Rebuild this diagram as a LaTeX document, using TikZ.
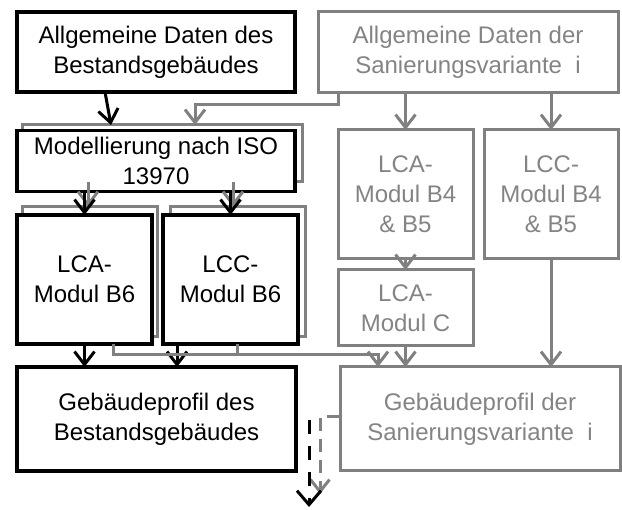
\documentclass[tikz,border=0pt]{standalone}
\usepackage{fontspec}
\setmainfont{Liberation Sans}
\usetikzlibrary{arrows.meta,calc}
\definecolor{gline}{RGB}{128,128,128}
\definecolor{gtext}{RGB}{132,132,132}
\begin{document}
\begin{tikzpicture}[x=1pt,y=-1pt,
  every node/.style={inner sep=0pt,outer sep=0pt,align=center,
    font=\fontsize{24}{30}\selectfont},
  bbox/.style={draw=black,line width=3.5pt,fill=white,text=black},
  gbox/.style={draw=gline,line width=3pt,fill=white,text=gtext},
  shbox/.style={draw=gline,line width=3pt},
  barrow/.style={draw=black,line width=3pt,-{Straight Barb[length=13pt,width=20pt]}},
  garrow/.style={draw=gline,line width=3pt,-{Straight Barb[length=13pt,width=20pt]}},
  gconn/.style={draw=gline,line width=3pt}]
\useasboundingbox (0,0) rectangle (622,510);
% shadows
\node[shbox,minimum width=280pt,minimum height=57pt] (Ms) at (162,153.5) {};
\node[shbox,minimum width=135pt,minimum height=130pt] (LCA6s) at (89.5,272) {};
\node[shbox,minimum width=135pt,minimum height=130pt] (LCC6s) at (237.5,272) {};
% main boxes
\node[bbox,minimum width=278pt,minimum height=80pt] (A) at (156,52) {Allgemeine Daten des\\Bestandsgebäudes};
\node[gbox,minimum width=300pt,minimum height=81pt] (B) at (468,52.5) {Allgemeine Daten der\\Sanierungsvariante\ \ i};
\node[bbox,minimum width=278pt,minimum height=61pt] (M) at (156,161) {Modellierung nach ISO\\13970};
\node[bbox,minimum width=135pt,minimum height=129pt] (LCA6) at (84.5,279.5) {LCA-\\Modul B6};
\node[bbox,minimum width=135pt,minimum height=129pt] (LCC6) at (230.5,279.5) {LCC-\\Modul B6};
\node[gbox,minimum width=135pt,minimum height=129pt] (LCA45) at (405.5,194.5) {LCA-\\Modul B4\\\& B5};
\node[gbox,minimum width=134pt,minimum height=129pt] (LCC45) at (551,194.5) {LCC-\\Modul B4\\\& B5};
\node[gbox,minimum width=135pt,minimum height=76pt] (LCAC) at (405.5,308) {LCA-\\Modul C};
\node[bbox,minimum width=279pt,minimum height=104pt] (GP1) at (156.5,419) {Gebäudeprofil des\\Bestandsgebäudes};
\node[gbox,minimum width=280pt,minimum height=104pt] (GP2) at (480,419) {Gebäudeprofil der\\Sanierungsvariante\ \ i};
% connectors top
\draw[barrow] ([xshift=-51pt]A.south) -- ([xshift=-51pt]Ms.north);
\draw[garrow] ([xshift=20pt]B.south west) -- ++(0,12) -| ([xshift=33pt]Ms.north);
\draw[garrow] (B.south -| LCA45) -- (LCA45.north);
\draw[garrow] (B.south -| LCC45) -- (LCC45.north);
% M to B6 modules
\coordinate (s1) at ([xshift=-1.5pt]LCA6s.north);
\coordinate (s2) at ([xshift=-4.5pt]LCC6s.north);
\draw[garrow] (Ms.south -| s1) -- (s1);
\draw[garrow] (Ms.south -| s2) -- (s2);
\draw[barrow] (M.south -| LCA6) -- (LCA6.north);
\draw[barrow] (M.south -| LCC6) -- (LCC6.north);
% B6 to GP1
\coordinate (c1) at ([xshift=-53.5pt]LCC6.south);
\draw[barrow] (LCA6.south) -- (LCA6.south |- GP1.north);
\draw[barrow] (c1) -- (c1 |- GP1.north);
% B6 to GP2 (grey)
\coordinate (g1) at ([xshift=28.5pt]LCA6.south);
\coordinate (g2) at ([xshift=6.5pt]LCC6.south);
\coordinate (g3) at ([xshift=-102pt]GP2.north);
\draw[garrow] (g1) -- ++(0,11) -| (g3);
\draw[gconn] (g2) -- ++(0,11);
% right column
\draw[garrow] (LCA45.south) -- (LCAC.north);
\draw[garrow] (LCAC.south) -- (LCAC.south |- GP2.north);
\draw[garrow] (LCC45.south) -- (LCC45.south |- GP2.north);
% dashed outputs
\coordinate (y417) at (0,417);
\coordinate (gdCorner) at (320,417);
\coordinate (gdEnd) at (320,494);
\draw[garrow,dash pattern=on 13pt off 8pt,-{Straight Barb[length=12pt,width=19pt]}] (GP2.west |- y417) -- (gdCorner) -- (gdEnd);
\coordinate (bdStart) at (309,420);
\coordinate (bdEnd) at (309,507);
\draw[barrow,dash pattern=on 14pt off 12pt,-{Straight Barb[length=14pt,width=24pt]}] (bdStart) -- (bdEnd);
\end{tikzpicture}
\end{document}
